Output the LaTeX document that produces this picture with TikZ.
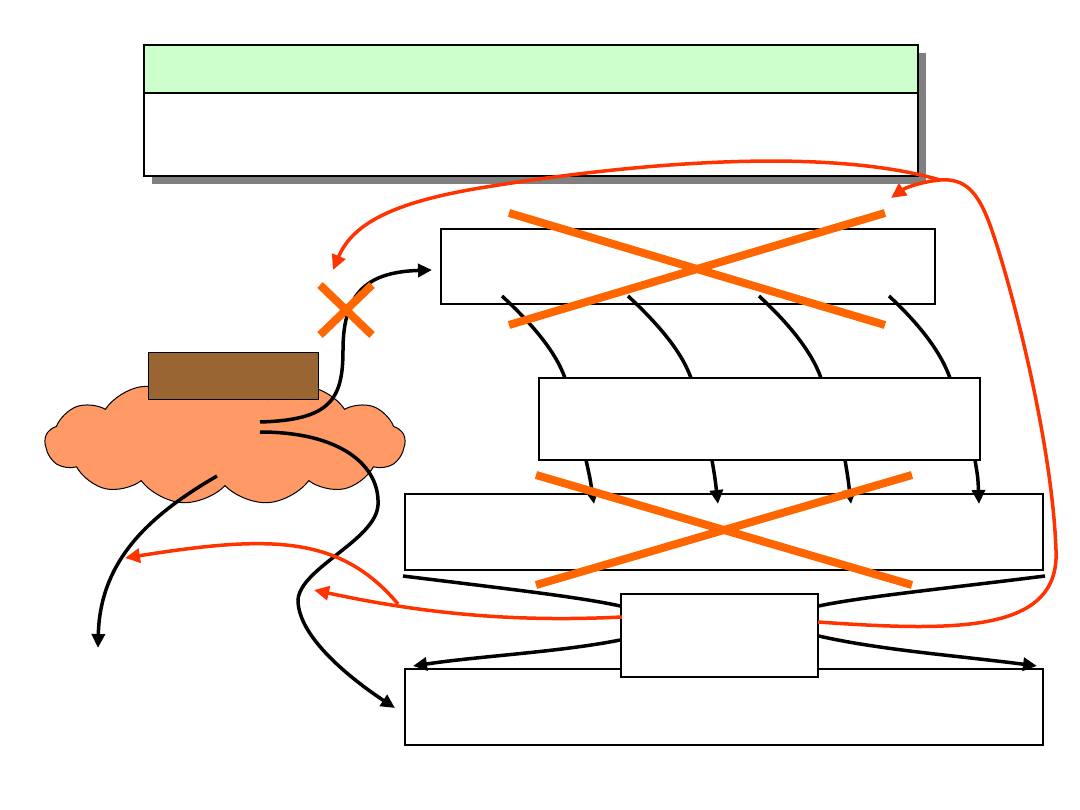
\documentclass[tikz,border=0pt]{standalone}
\usetikzlibrary{
  arrows.meta,
  shadows,
  shapes.symbols
}
\definecolor{headgreen}{RGB}{204,255,204}
\definecolor{shadowgray}{RGB}{128,128,128}
\definecolor{cloudorange}{RGB}{255,153,102}
\definecolor{lidbrown}{RGB}{153,102,51}
\definecolor{crossorange}{RGB}{255,102,0}
\definecolor{flowred}{RGB}{255,51,0}
\tikzset{
  panel/.style={draw=black,line width=1.5pt,fill=white,inner sep=0pt},
  titlepanel/.style={panel,line width=2pt,
    drop shadow={shadow xshift=8pt,shadow yshift=-8pt,fill=shadowgray,opacity=1}},
  headpanel/.style={panel,line width=2pt,fill=headgreen},
  lid/.style={draw=black,line width=1pt,fill=lidbrown,inner sep=0pt},
  puff/.style={cloud,cloud puffs=13,cloud puff arc=100,aspect=3,draw=black,
    line width=1pt,fill=cloudorange,inner sep=0pt},
  wire/.style={line width=3.5pt,draw=black},
  wireflow/.style={wire,-{Triangle[length=14pt,width=13pt]}},
  redflow/.style={line width=3.5pt,draw=flowred,-{Triangle[length=15pt,width=14pt]}},
  crossout/.style={line width=8pt,draw=crossorange}
}
\begin{document}
\begin{tikzpicture}[x=1pt,y=-1pt]
  \useasboundingbox (0,0) rectangle (1080,810);
  % boxes
  \node[titlepanel,minimum width=774pt,minimum height=131pt] (title) at (531,110.5) {};
  \node[headpanel,minimum width=774pt,minimum height=48pt] (titlehead) at (531,69) {};
  \node[panel,minimum width=494pt,minimum height=75pt] (filter) at (688,266.5) {};
  \node[panel,minimum width=441pt,minimum height=82pt] (stage) at (759.5,419) {};
  \node[panel,minimum width=638pt,minimum height=76pt] (upper) at (724,532) {};
  \node[panel,minimum width=638pt,minimum height=76pt] (lower) at (724,707) {};
  \node[panel,minimum width=197pt,minimum height=83pt] (hub) at (719.5,635.5) {};
  \node[puff,minimum width=360pt,minimum height=125pt] (source) at (225,442) {};
  \node[lid,minimum width=170pt,minimum height=47pt] (lid) at (233,376.5) {};
  % free ends
  \coordinate (srcA) at (260,422);
  \coordinate (srcB) at (260,432);
  \coordinate (srcC) at (217,476);
  \coordinate (toFilter) at (432,270);
  \coordinate (toLower) at (395,708);
  \coordinate (toLeft) at (98,648);
  \coordinate (fa1) at (502,296); \coordinate (sa1) at (565,378);
  \coordinate (fa2) at (628,296); \coordinate (sa2) at (691,378);
  \coordinate (fa3) at (759,296); \coordinate (sa3) at (821,378);
  \coordinate (fa4) at (889,296); \coordinate (sa4) at (950,378);
  \coordinate (sb1) at (586,460); \coordinate (ub1) at (594,504);
  \coordinate (sb2) at (712,460); \coordinate (ub2) at (718,504);
  \coordinate (sb3) at (845,460); \coordinate (ub3) at (851,504);
  \coordinate (sb4) at (975,460); \coordinate (ub4) at (979,504);
  \coordinate (ucl) at (403,576); \coordinate (ucr) at (1045,576);
  \coordinate (ldl) at (413,666); \coordinate (ldr) at (1037,666);
  \coordinate (hubL) at (622,617); \coordinate (hubR) at (818,622);
  \coordinate (backA) at (314,590);
  \coordinate (hook) at (398,604); \coordinate (backB) at (125,558);
  \coordinate (turn) at (940,180);
  \coordinate (backTitle) at (891,198);
  \coordinate (backSrc) at (333,270);
  % black wires
  \draw[wireflow] (srcA) .. controls (330,420) and (343,400) .. (343,350)
    .. controls (343,290) and (370,272) .. (toFilter);
  \draw[wireflow] (srcB) .. controls (340,432) and (380,465) .. (378,505)
    .. controls (376,540) and (300,568) .. (298,600)
    .. controls (298,640) and (360,685) .. (toLower);
  \draw[wireflow] (srcC) .. controls (150,515) and (100,560) .. (toLeft);
  \draw[wire] (fa1) .. controls (530,322) and (555,350) .. (sa1);
  \draw[wire] (fa2) .. controls (656,322) and (681,350) .. (sa2);
  \draw[wire] (fa3) .. controls (787,322) and (811,350) .. (sa3);
  \draw[wire] (fa4) .. controls (917,322) and (940,350) .. (sa4);
  \draw[wireflow] (sb1) .. controls (590,478) .. (ub1);
  \draw[wireflow] (sb2) .. controls (715,478) .. (ub2);
  \draw[wireflow] (sb3) .. controls (848,478) .. (ub3);
  \draw[wireflow] (sb4) .. controls (978,478) .. (ub4);
  \draw[wire] (ucl) .. controls (500,588) and (580,597) .. (hub.west |- 0,606);
  \draw[wire] (ucr) .. controls (950,588) and (860,597) .. (hub.east |- 0,606);
  \draw[wireflow] (hub.west |- 0,640) .. controls (560,652) and (480,656) .. (ldl);
  \draw[wireflow] (hub.east |- 0,636) .. controls (880,650) and (960,656) .. (ldr);
  % red returns
  \draw[redflow] (hubL) .. controls (520,622) and (430,615) .. (backA);
  \draw[redflow] (hook) .. controls (340,535) and (270,535) .. (backB);
  \draw[redflow] (hubR) .. controls (960,632) and (1060,632) .. (1056,550)
    .. controls (1052,440) and (1010,280) .. (990,225)
    .. controls (978,192) and (965,178) .. (turn)
    .. controls (920,182) and (905,188) .. (backTitle);
  \draw[redflow] (turn) .. controls (820,145) and (620,165) .. (480,188)
    .. controls (390,203) and (352,225) .. (backSrc);
  % crosses
  \draw[crossout] (509,213) -- (885,325);
  \draw[crossout] (509,325) -- (885,213);
  \draw[crossout] (320,285) -- (372,335);
  \draw[crossout] (320,335) -- (372,285);
  \draw[crossout] (536,475) -- (912,585);
  \draw[crossout] (536,585) -- (912,475);
\end{tikzpicture}
\end{document}
